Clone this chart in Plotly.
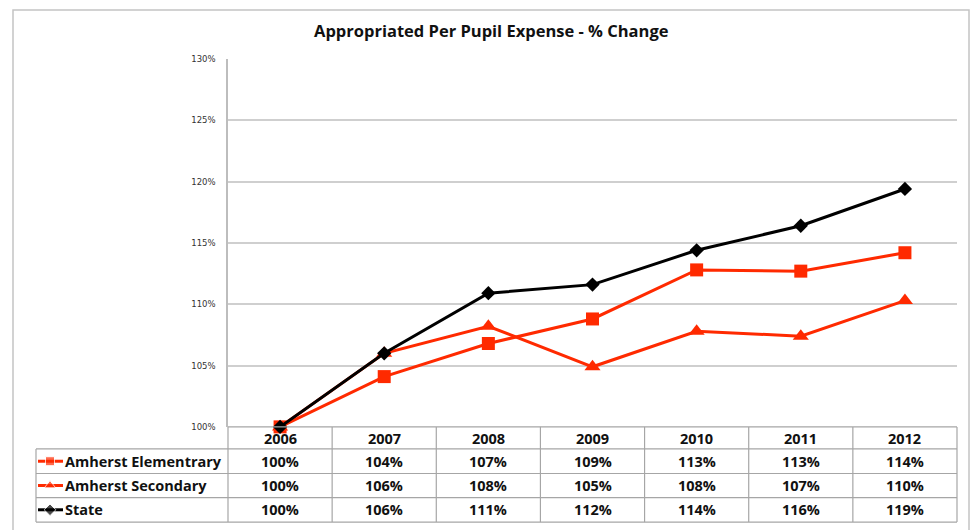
import plotly.graph_objects as go

# ---------------- data ----------------
years = ["2006", "2007", "2008", "2009", "2010", "2011", "2012"]
series_names = ["Amherst Elementrary", "Amherst Secondary", "State"]
elementary = [100.0, 104.1, 106.8, 108.8, 112.8, 112.7, 114.2]
secondary = [100.0, 106.0, 108.2, 104.9, 107.8, 107.4, 110.3]
state = [100.0, 106.0, 110.9, 111.6, 114.4, 116.4, 119.4]
y_ticks = [100, 105, 110, 115, 120, 125, 130]

# ---------------- styling / layout constants ----------------
W, H = 976, 530
RED = "#FF2A00"
BLACK = "#000000"
FONT = "Open Sans"
PLOT_L, PLOT_R, PLOT_T, PLOT_B = 228, 957, 55, 430
ROW_LINES = [430, 452.5, 477.5, 502, 527]
LABEL_L = 36


def px(x):
    return x / W


def py(y):
    return 1 - y / H


series = [
    (series_names[0], elementary, RED, "square", 13, 9),
    (series_names[1], secondary, RED, "triangle-up", 14, 10),
    (series_names[2], state, BLACK, "diamond", 11, 9),
]

fig = go.Figure()
xi = list(range(len(years)))
for name, vals, col, sym, msize, _ in series:
    fig.add_trace(go.Scatter(
        x=xi, y=vals, mode="lines+markers", name=name,
        line=dict(color=col, width=3),
        marker=dict(symbol=sym, size=msize, color=col),
        cliponaxis=False, showlegend=False, hoverinfo="skip",
    ))

TXT = dict(family=FONT, size=14.5, color="#111111", weight="bold")

shapes = []
annotations = []
for r, (name, vals, col, sym, msize, lsize) in enumerate(series):
    yc = (ROW_LINES[r + 1] + ROW_LINES[r + 2]) / 2
    # legend sample inside the data table (pixel-range overlay axes)
    fig.add_trace(go.Scatter(
        x=[38, 50, 63], y=[yc, yc, yc], mode="lines+markers",
        line=dict(color=col, width=3),
        marker=dict(symbol=sym, size=[0, lsize, 0], color=col),
        xaxis="x2", yaxis="y2", showlegend=False, hoverinfo="skip",
    ))
    annotations.append(dict(
        x=px(63), y=py(yc), xref="paper", yref="paper", text=name,
        showarrow=False, xanchor="left", yanchor="middle", font=TXT,
    ))
    for c, v in enumerate(vals):
        annotations.append(dict(
            x=c, y=py(yc), xref="x", yref="paper", text=f"{round(v)}%",
            showarrow=False, xanchor="center", yanchor="middle", font=TXT,
        ))

# header (years)
for c, yr in enumerate(years):
    annotations.append(dict(
        x=c, y=py((ROW_LINES[0] + ROW_LINES[1]) / 2 + 1), xref="x", yref="paper", text=yr,
        showarrow=False, xanchor="center", yanchor="middle", font=TXT,
    ))

# title
annotations.append(dict(
    x=px(492), y=py(26), xref="paper", yref="paper",
    text="Appropriated Per Pupil Expense - % Change", showarrow=False,
    xanchor="center", yanchor="middle",
    font=dict(family=FONT, size=16.5, color="#111111", weight="bold"),
))

GRID = "#a6a6a6"
for i, yl in enumerate(ROW_LINES):
    x0 = PLOT_L if i == 0 else LABEL_L
    shapes.append(dict(type="line", xref="paper", yref="paper",
                       x0=px(x0), x1=px(PLOT_R), y0=py(yl), y1=py(yl),
                       line=dict(color=GRID, width=1.2)))
n = len(years)
for k in range(n + 1):
    xx = PLOT_L + (PLOT_R - PLOT_L) * k / n
    shapes.append(dict(type="line", xref="paper", yref="paper",
                       x0=px(xx), x1=px(xx), y0=py(ROW_LINES[0]), y1=py(ROW_LINES[-1]),
                       line=dict(color=GRID, width=1.2)))
shapes.append(dict(type="line", xref="paper", yref="paper",
                   x0=px(LABEL_L), x1=px(LABEL_L), y0=py(ROW_LINES[1]), y1=py(ROW_LINES[-1]),
                   line=dict(color=GRID, width=1.2)))
# outer frame
shapes.append(dict(type="rect", xref="paper", yref="paper",
                   x0=px(13), x1=px(969), y0=py(5), y1=py(540),
                   line=dict(color="#c4c4c4", width=1.5), layer="below"))

fig.update_layout(
    width=W, height=H, margin=dict(l=0, r=0, t=0, b=0),
    paper_bgcolor="white", plot_bgcolor="rgba(0,0,0,0)",
    xaxis=dict(domain=[px(PLOT_L), px(PLOT_R)], range=[-0.5, n - 0.5],
               showticklabels=False, showgrid=False, zeroline=False, showline=False,
               fixedrange=True),
    yaxis=dict(domain=[py(PLOT_B), py(PLOT_T)], range=[100, 130],
               tickvals=y_ticks, ticktext=[f"{t}%" for t in y_ticks],
               showgrid=True, gridcolor="#cfcfcf", gridwidth=1.5,
               showline=True, linecolor="#bdbdbd", linewidth=1.5,
               zeroline=False, ticks="outside", ticklen=9, tickcolor="rgba(0,0,0,0)",
               tickfont=dict(family="DejaVu Sans", size=8.5, color="#333333")),
    xaxis2=dict(domain=[0, 1], range=[0, W], visible=False, anchor="y2"),
    yaxis2=dict(domain=[0, 1], range=[H, 0], visible=False, anchor="x2"),
    shapes=shapes, annotations=annotations,
)

fig.write_html("out.html", config={"displayModeBar": False},
               post_script="document.body.style.margin='0px';document.body.style.overflow='hidden';")
